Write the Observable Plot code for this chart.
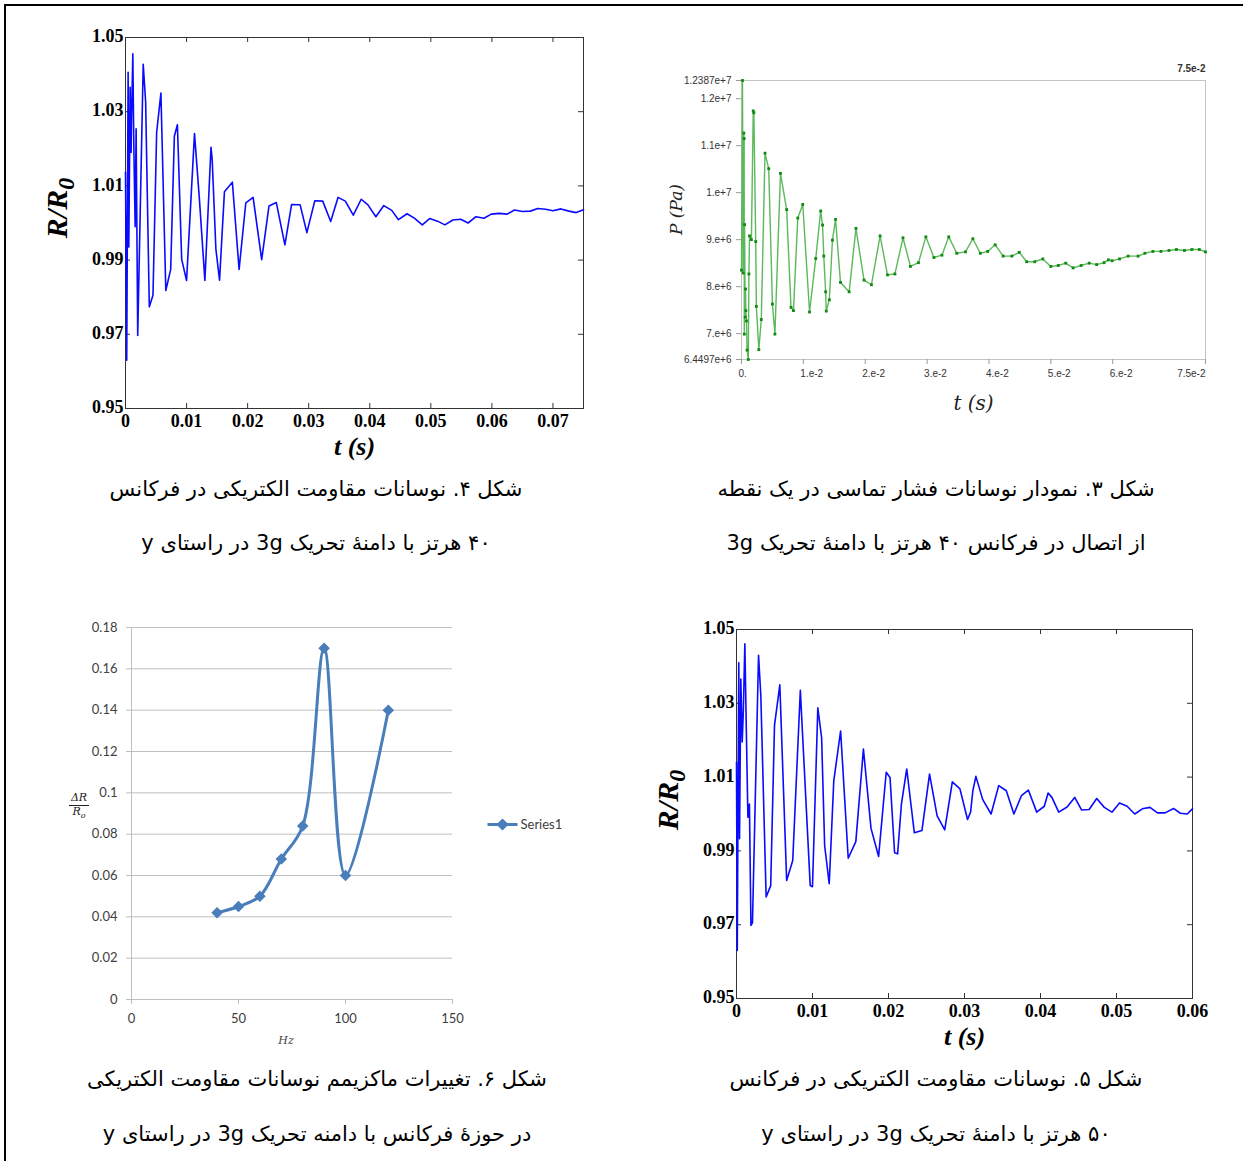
<!DOCTYPE html>
<html><head><meta charset="utf-8">
<script src="https://cdn.jsdelivr.net/npm/d3@7"></script>
<script src="https://cdn.jsdelivr.net/npm/@observablehq/plot@0.6"></script>
<style>
body{margin:0;background:#fff;}
#page{position:relative;width:1243px;height:1161px;overflow:hidden;background:#fff;}
.panel{position:absolute;}
.panel svg{overflow:visible;}
.cap{position:absolute;width:640px;direction:rtl;text-align:center;font-family:"DejaVu Sans";font-size:21px;color:#000;white-space:nowrap;line-height:26px;}
.vlab{position:absolute;transform:translate(-50%,-50%) rotate(-90deg);white-space:nowrap;font-family:"Liberation Serif";font-weight:bold;font-style:italic;font-size:30px;color:#000;}
.vlab sub{font-size:24px;vertical-align:-7px;}
.frac{position:absolute;font-family:"DejaVu Serif";font-style:italic;font-size:11px;color:#222;text-align:center;line-height:12px;}
.frac .num{border-bottom:1px solid #222;padding:0 1px 1px 1px;}
.border{position:absolute;background:#000;}
</style></head><body><div id="page"></div>
<script>
// ---------- data ----------
// Fig. 4: R/R0 vs t at 40 Hz  [t (s), R/R0]
const fig4Series = [
[0,1.0137],[0.0002,0.963],[0.00043,1.0406],[0.00054,0.9935],[0.00076,1.0366],[0.00092,1.019],[0.00098,1.027],[0.0012,1.0456],[0.00136,1.021],[0.00158,0.999],[0.00174,1.0254],[0.002,0.9697],[0.0029,1.0428],[0.0033,1.0326],[0.0039,0.9774],[0.0045,0.9805],[0.0051,1.0244],[0.0058,1.035],[0.0066,0.9818],[0.0074,0.9875],[0.008,1.0234],[0.0085,1.0265],[0.0092,0.9902],[0.01,0.9845],[0.0113,1.0241],[0.0121,1.0065],[0.013,0.9845],[0.014,1.0204],[0.0142,1.017],[0.0148,0.993],[0.0154,0.9846],[0.0162,1.0084],[0.0175,1.011],[0.0186,0.9875],[0.0197,1.0054],[0.0209,1.0069],[0.0223,0.9901],[0.0235,1.0046],[0.0247,1.0055],[0.0261,0.9941],[0.0272,1.005],[0.0286,1.0049],[0.0297,0.9974],[0.031,1.006],[0.0323,1.0059],[0.0336,1.0004],[0.0348,1.0069],[0.036,1.0059],[0.0373,1.0021],[0.0386,1.0064],[0.0397,1.0049],[0.041,1.0017],[0.0423,1.0047],[0.0436,1.0034],[0.0447,1.0009],[0.0461,1.0025],[0.0473,1.0013],[0.0486,0.9995],[0.0498,1.0012],[0.0511,1.0005],[0.0523,0.9995],[0.0536,1.0008],[0.0549,1.001],[0.0561,1.0],[0.0574,1.0017],[0.0587,1.0013],[0.0599,1.0024],[0.0612,1.0026],[0.0625,1.0024],[0.0637,1.0035],[0.065,1.0031],[0.0663,1.0032],[0.0675,1.0039],[0.0688,1.0037],[0.07,1.0033],[0.0713,1.0038],[0.0726,1.0032],[0.0738,1.0028],[0.075,1.0036]
];
// Fig. 5: R/R0 vs t at 50 Hz  [t (s), R/R0]
const fig5Series = [
[0,1.014],[0.0001,0.963],[0.0003,1.041],[0.0004,0.9933],[0.00057,1.0366],[0.00075,1.0195],[0.0009,1.028],[0.0011,1.0461],[0.0013,1.022],[0.0015,0.9991],[0.0017,1.0027],[0.0019,0.9698],[0.0021,0.9705],[0.0029,1.043],[0.0032,1.0321],[0.0039,0.9775],[0.0045,0.9806],[0.005,1.024],[0.0057,1.035],[0.0066,0.982],[0.0074,0.9874],[0.0084,1.0335],[0.0097,0.9806],[0.01,0.9803],[0.0107,1.0288],[0.0112,1.0207],[0.0116,0.9914],[0.0122,0.9811],[0.0128,1.009],[0.0137,1.0225],[0.0147,0.988],[0.0157,0.9925],[0.0167,1.0176],[0.0177,0.9961],[0.0187,0.9885],[0.0197,1.0113],[0.0202,1.0099],[0.0208,0.9895],[0.0212,0.9892],[0.0217,1.0027],[0.0224,1.0122],[0.0234,0.9949],[0.0244,0.9955],[0.0254,1.0108],[0.0264,0.9995],[0.0274,0.9957],[0.0284,1.0087],[0.0294,1.0068],[0.0304,0.9985],[0.0308,1.0005],[0.0311,1.0063],[0.0315,1.0102],[0.0324,1.0039],[0.0335,1.0],[0.0345,1.0077],[0.0355,1.0063],[0.0365,1.0],[0.0375,1.005],[0.0384,1.0065],[0.0395,1.0005],[0.0405,1.0021],[0.041,1.0057],[0.0415,1.0045],[0.0424,1.0005],[0.0435,1.0019],[0.0445,1.0045],[0.0454,1.0011],[0.0464,1.0012],[0.0474,1.0042],[0.0484,1.0018],[0.0494,1.0005],[0.0504,1.003],[0.0514,1.0021],[0.0524,1.0],[0.0534,1.0014],[0.0544,1.0018],[0.0554,1.0003],[0.0564,1.0003],[0.0575,1.0015],[0.0584,1.0002],[0.0593,1.0],[0.06,1.0014]
];
// Fig. 3: contact pressure vs t  [t (s), P (Pa)]
const fig3Series = [
[0,8.35e6],[0.00016,12.387e6],[0.00027,8.29e6],[0.00038,11.27e6],[0.00043,11.15e6],[0.00045,6.99e6],[0.0005,9.32e6],[0.0006,7.35e6],[0.00065,7.95e6],[0.0007,7.49e6],[0.0008,7.27e6],[0.0009,6.65e6],[0.0011,6.4497e6],[0.0012,8.27e6],[0.0013,9.08e6],[0.0016,9.0e6],[0.0019,11.74e6],[0.002,11.7e6],[0.0023,8.96e6],[0.0024,7.58e6],[0.0028,6.66e6],[0.0032,7.3e6],[0.0038,10.84e6],[0.0044,10.51e6],[0.005,7.63e6],[0.0054,6.99e6],[0.0063,10.41e6],[0.0073,9.64e6],[0.008,7.56e6],[0.0084,7.49e6],[0.0091,9.46e6],[0.0099,9.75e6],[0.011,7.46e6],[0.012,8.6e6],[0.0128,9.61e6],[0.0131,9.31e6],[0.0133,8.65e6],[0.0136,7.89e6],[0.0137,7.48e6],[0.0142,7.72e6],[0.0147,8.99e6],[0.0152,9.43e6],[0.016,8.09e6],[0.0174,7.89e6],[0.0185,9.24e6],[0.0198,8.14e6],[0.021,8.04e6],[0.0224,9.08e6],[0.0236,8.25e6],[0.0248,8.27e6],[0.0261,9.04e6],[0.0273,8.43e6],[0.0286,8.51e6],[0.0298,9.06e6],[0.0311,8.62e6],[0.0324,8.67e6],[0.0335,9.06e6],[0.0348,8.71e6],[0.0362,8.74e6],[0.0374,9.02e6],[0.0386,8.71e6],[0.0398,8.75e6],[0.041,8.89e6],[0.0423,8.65e6],[0.0437,8.65e6],[0.0449,8.73e6],[0.0461,8.53e6],[0.0474,8.53e6],[0.0487,8.59e6],[0.05,8.43e6],[0.0512,8.45e6],[0.0524,8.5e6],[0.0536,8.4e6],[0.0549,8.45e6],[0.0562,8.5e6],[0.0574,8.47e6],[0.0586,8.51e6],[0.0593,8.57e6],[0.0599,8.55e6],[0.0611,8.59e6],[0.0625,8.65e6],[0.0641,8.65e6],[0.0652,8.71e6],[0.0665,8.75e6],[0.0678,8.75e6],[0.0691,8.77e6],[0.0703,8.79e6],[0.0716,8.77e6],[0.0728,8.79e6],[0.074,8.79e6],[0.075,8.74e6]
];
// Fig. 6: max resistance change vs frequency
const fig6Freq  = [40, 50, 60, 70, 80, 90, 100, 120];
const fig6Ratio = [0.042, 0.045, 0.050, 0.068, 0.084, 0.170, 0.060, 0.140];
const fig6SeriesName = "Series1";

// ticks
const rTicks = [0.95, 0.97, 0.99, 1.01, 1.03, 1.05];
const fig4TimeTicks = [0, 0.01, 0.02, 0.03, 0.04, 0.05, 0.06, 0.07];
const fig5TimeTicks = [0, 0.01, 0.02, 0.03, 0.04, 0.05, 0.06];
const fig3TimeTicks = [0, 0.01, 0.02, 0.03, 0.04, 0.05, 0.06, 0.075];
const fig3TimeLabels = ["0.", "1.e-2", "2.e-2", "3.e-2", "4.e-2", "5.e-2", "6.e-2", ""];
const fig3EndLabel = "7.5e-2";
const fig3PressureTicks = [6.4497e6, 7e6, 8e6, 9e6, 1e7, 1.1e7, 1.2e7, 1.2387e7];
const fig3PressureLabels = ["6.4497e+6", "7.e+6", "8.e+6", "9.e+6", "1.e+7", "1.1e+7", "1.2e+7", "1.2387e+7"];
const fig6RatioTicks = [0, 0.02, 0.04, 0.06, 0.08, 0.1, 0.12, 0.14, 0.16, 0.18];
const fig6FreqTicks = [0, 50, 100, 150];

// captions (Persian)
const cap3 = ["شکل ۳. نمودار نوسانات فشار تماسی در یک نقطه", "از اتصال در فرکانس ۴۰ هرتز با دامنهٔ تحریک 3g"];
const cap4 = ["شکل ۴. نوسانات مقاومت الکتریکی در فرکانس", "۴۰ هرتز با دامنهٔ تحریک 3g در راستای y"];
const cap5 = ["شکل ۵. نوسانات مقاومت الکتریکی در فرکانس", "۵۰ هرتز با دامنهٔ تحریک 3g در راستای y"];
const cap6 = ["شکل ۶. تغییرات ماکزیمم نوسانات مقاومت الکتریکی", "در حوزهٔ فرکانس با دامنه تحریک 3g در راستای y"];

// ---------- layout helpers ----------
const page = document.getElementById("page");
function place(node, left, top) {
  const d = document.createElement("div");
  d.className = "panel"; d.style.left = left + "px"; d.style.top = top + "px";
  d.appendChild(node); page.appendChild(d); return d;
}
function addDiv(cls, html, style) {
  const d = document.createElement("div"); d.className = cls; d.innerHTML = html;
  Object.assign(d.style, style); page.appendChild(d); return d;
}

// ---------- MATLAB style panels ----------
function matlabPanel(series, xMax, xTicks, box) {
  const pw = box.width - box.ml - box.mr, ph = box.height - box.mt - box.mb;
  const tx = 5 * xMax / pw, ty = 5 * 0.1 / ph;
  const data = series.map(([t, r]) => ({t, r}));
  const fmtX = d => d === 0 ? "0" : d3.format(".2f")(d);
  return Plot.plot({
    width: box.width, height: box.height,
    marginLeft: box.ml, marginRight: box.mr, marginTop: box.mt, marginBottom: box.mb,
    style: {fontFamily: "Liberation Serif", fontWeight: "bold", fontSize: "18px", color: "#000", background: "transparent", overflow: "visible"},
    x: {domain: [0, xMax]},
    y: {domain: [0.95, 1.05]},
    marks: [
      Plot.frame({stroke: "#333"}),
      Plot.ruleX(xTicks, {x: d => d, y1: 0.95, y2: 0.95 + ty, stroke: "#333"}),
      Plot.ruleX(xTicks, {x: d => d, y1: 1.05 - ty, y2: 1.05, stroke: "#333"}),
      Plot.ruleY(rTicks, {y: d => d, x1: 0, x2: tx, stroke: "#333"}),
      Plot.ruleY(rTicks, {y: d => d, x1: xMax - tx, x2: xMax, stroke: "#333"}),
      Plot.axisX(xTicks, {tickSize: 0, tickPadding: 6, tickFormat: fmtX, label: null}),
      Plot.axisY(rTicks, {tickSize: 0, tickPadding: 2, dy: -1, tickFormat: d3.format(".2f"), label: null}),
      Plot.line(data, {x: "t", y: "r", stroke: "#0a0aff", strokeWidth: 1.6}),
      Plot.text(["t (s)"], {frameAnchor: "bottom", dy: 46, fontSize: 26, fontStyle: "italic", fontWeight: "bold"})
    ]
  });
}

// Fig 4 (top-left)
place(matlabPanel(fig4Series, 0.075, fig4TimeTicks,
  {width: 560, height: 440, ml: 85, mr: 17, mt: 17, mb: 52}), 40, 20);
addDiv("vlab", "R/R<sub>0</sub>", {left: "60px", top: "208px"});

// Fig 5 (bottom-right)
place(matlabPanel(fig5Series, 0.06, fig5TimeTicks,
  {width: 560, height: 440, ml: 86, mr: 18, mt: 19, mb: 52}), 650, 610);
addDiv("vlab", "R/R<sub>0</sub>", {left: "671px", top: "800px"});

// ---------- Fig 3 (top-right) ----------
{
  const data = fig3Series.map(([t, p]) => ({t, p}));
  const labX = new Map(fig3TimeTicks.map((t, i) => [t, fig3TimeLabels[i]]));
  const labY = new Map(fig3PressureTicks.map((v, i) => [v, fig3PressureLabels[i]]));
  const chart = Plot.plot({
    width: 575, height: 370, marginLeft: 91, marginRight: 20, marginTop: 30, marginBottom: 61,
    style: {fontFamily: "Liberation Sans", fontSize: "10px", color: "#444", background: "transparent", overflow: "visible"},
    x: {domain: [0, 0.075]},
    y: {domain: [6.4497e6, 1.2387e7]},
    marks: [
      Plot.frame({stroke: "#c4c4c4"}),
      Plot.axisX(fig3TimeTicks, {tickSize: 5, tickFormat: () => "", label: null, stroke: "#999"}),
      Plot.axisY(fig3PressureTicks, {tickSize: 5, tickPadding: 5, tickFormat: d => labY.get(d), label: null, stroke: "#999", fill: "#333"}),
      Plot.text(fig3TimeTicks, {x: d => d, frameAnchor: "bottom", dy: 17, dx: -3, text: d => labX.get(d), textAnchor: "start", fill: "#333"}),
      Plot.text([0.075], {x: d => d, frameAnchor: "bottom", dy: 17, text: () => fig3EndLabel, textAnchor: "end", fill: "#333"}),
      Plot.text([0.075], {x: d => d, frameAnchor: "top", dy: -16, text: () => fig3EndLabel, textAnchor: "end", fontWeight: "bold", fill: "#333"}),
      Plot.line(data, {x: "t", y: "p", stroke: "#5cb85c", strokeWidth: 1.4}),
      Plot.dot(data, {x: "t", y: "p", symbol: "square", r: 1.6, fill: "#128a12"}),
      Plot.text(["t (s)"], {frameAnchor: "bottom", dy: 50, fontFamily: "DejaVu Serif", fontStyle: "italic", fontSize: 20, fill: "#222"}),
      Plot.text(["P (Pa)"], {frameAnchor: "left", dx: -65, dy: 15, rotate: -90, fontFamily: "DejaVu Serif", fontStyle: "italic", fontSize: 17, fill: "#222"})
    ]
  });
  place(chart, 650, 50);
}

// ---------- Fig 6 (bottom-left, Excel style) ----------
{
  const data = fig6Freq.map((f, i) => ({f, v: fig6Ratio[i]}));
  const blue = "#4a7ebb";
  const legendSymbol = {draw(ctx) {
    ctx.moveTo(-15, 0); ctx.lineTo(15, 0);
    ctx.moveTo(0, -4); ctx.lineTo(4, 0); ctx.lineTo(0, 4); ctx.lineTo(-4, 0); ctx.closePath();
  }};
  const chart = Plot.plot({
    width: 520, height: 450, marginLeft: 71, marginRight: 128, marginTop: 17, marginBottom: 61,
    style: {fontFamily: "Lato", fontSize: "13px", color: "#404040", background: "transparent", overflow: "visible"},
    x: {domain: [0, 150]},
    y: {domain: [0, 0.18]},
    marks: [
      Plot.ruleY(fig6RatioTicks, {y: d => d, stroke: "#bfbfbf"}),
      Plot.ruleX([0], {stroke: "#bfbfbf"}),
      Plot.axisY(fig6RatioTicks, {tickSize: 5, tickPadding: 9, tickFormat: d => String(+d.toFixed(2)), label: null, stroke: "#bfbfbf", fill: "#404040"}),
      Plot.axisX(fig6FreqTicks, {tickSize: 5, tickPadding: 9, label: null, stroke: "#bfbfbf", fill: "#404040"}),
      Plot.line(data, {x: "f", y: "v", curve: "catmull-rom", stroke: blue, strokeWidth: 3}),
      Plot.dot(data, {x: "f", y: "v", symbol: "diamond2", r: 5.2, fill: blue}),
      Plot.text(["Hz"], {frameAnchor: "bottom", dx: -6, dy: 44, fontStyle: "italic", fontFamily: "DejaVu Serif", fontSize: 11, fill: "#404040"}),
      Plot.dot([fig6SeriesName], {frameAnchor: "right", dx: 50, dy: 11, symbol: legendSymbol, stroke: blue, fill: blue, strokeWidth: 3}),
      Plot.text([fig6SeriesName], {frameAnchor: "right", dx: 68, dy: 11, textAnchor: "start", fill: "#404040"})
    ]
  });
  place(chart, 60, 610);
  addDiv("frac", '<div class="num">ΔR</div><div>R<sub style="font-size:8px">o</sub></div>', {left: "69px", top: "792px", width: "20px"});
}

// ---------- captions ----------
function caption(lines, cx, y1, y2) {
  addDiv("cap", lines[0], {left: (cx - 320) + "px", top: (y1 - 13) + "px"});
  addDiv("cap", lines[1], {left: (cx - 320) + "px", top: (y2 - 13) + "px"});
}
caption(cap4, 316, 489, 543);
caption(cap3, 936, 489, 543);
caption(cap6, 317, 1079, 1134);
caption(cap5, 936, 1079, 1134);

// ---------- outer frame ----------
addDiv("border", "", {left: "4px", top: "4px", width: "1239px", height: "2px"});
addDiv("border", "", {left: "4px", top: "4px", width: "2px", height: "1157px"});
</script></body></html>
